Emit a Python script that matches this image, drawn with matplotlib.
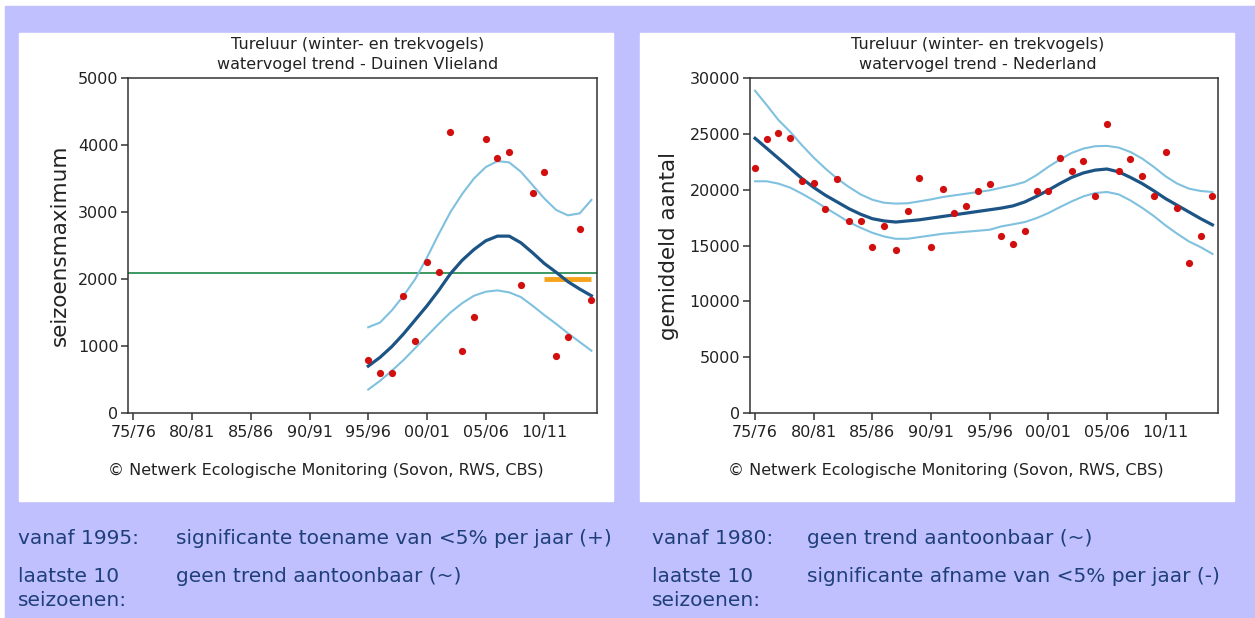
import matplotlib
matplotlib.use("Agg")
import matplotlib.pyplot as plt
from matplotlib.patches import Rectangle
import numpy as np

# ── colours ──────────────────────────────────────────────────────────
LAVENDER = "#C0C0FF"
RED = "#D10F0F"
TREND = "#1B5485"
BAND = "#7FC1DF"
GREEN = "#2E9154"
ORANGE = "#F5A31A"
AXIS = "#333333"
TEXT_BLUE = "#1F3F7A"

W, H = 1255, 618

# ── data: Duinen Vlieland ────────────────────────────────────────────
years_l = np.arange(1995, 2015)
counts_l = [790, 590, 590, 1740, 1080, 2260, 2110, 4190, 930, 1430,
            4090, 3810, 3890, 1910, 3290, 3590, 850, 1130, 2740, 1680]
trend_l = [700, 830, 990, 1180, 1390, 1600, 1830, 2080, 2280, 2440,
           2570, 2640, 2640, 2540, 2390, 2230, 2100, 1960, 1850, 1750]
upper_l = [1280, 1350, 1530, 1750, 2000, 2320, 2670, 3000, 3270, 3500,
           3670, 3760, 3740, 3600, 3400, 3200, 3030, 2950, 2980, 3180]
lower_l = [350, 480, 630, 790, 970, 1150, 1330, 1500, 1640, 1750,
           1810, 1830, 1800, 1730, 1600, 1460, 1330, 1190, 1060, 930]
ref_level_l = 2090
recent_years_l = [2010, 2014]
recent_level_l = 2000

# ── data: Nederland ──────────────────────────────────────────────────
years_r = np.arange(1975, 2015)
counts_r = [21980, 24520, 25030, 24670, 20780, 20600, 18230, 20930, 17160, 17160,
            14910, 16740, 14580, 18080, 21080, 14910, 20030, 17900, 18530, 19880,
            20480, 15840, 15090, 16260, 19880, 19880, 22870, 21680, 22580, 19430,
            25900, 21680, 22730, 21200, 19400, 23330, 18350, 13410, 15840, 19430]
trend_r = [24600, 23700, 22800, 21900, 21000, 20200, 19500, 18900, 18300, 17800,
           17400, 17200, 17100, 17200, 17300, 17450, 17600, 17750, 17900, 18050,
           18200, 18350, 18550, 18900, 19400, 19950, 20550, 21100, 21500, 21750,
           21850, 21600, 21100, 20550, 19900, 19200, 18600, 18000, 17400, 16850]
upper_r = [28860, 27570, 26230, 25180, 23980, 22870, 21890, 20990, 20240, 19580,
           19100, 18830, 18750, 18780, 18950, 19130, 19340, 19490, 19640, 19790,
           19940, 20180, 20400, 20690, 21300, 22040, 22700, 23290, 23680, 23890,
           23920, 23770, 23380, 22790, 22040, 21200, 20540, 20090, 19880, 19790]
lower_r = [20750, 20750, 20540, 20180, 19640, 19040, 18380, 17750, 17100, 16590,
           16140, 15810, 15600, 15600, 15750, 15900, 16050, 16140, 16230, 16320,
           16410, 16710, 16900, 17100, 17450, 17900, 18440, 18950, 19400, 19700,
           19790, 19580, 19040, 18380, 17640, 16800, 16050, 15360, 14850, 14250]

tick_years = [1975, 1980, 1985, 1990, 1995, 2000, 2005, 2010]
tick_labels = ["75/76", "80/81", "85/86", "90/91", "95/96", "00/01", "05/06", "10/11"]

plt.rcParams["font.family"] = ["DejaVu Sans"]

fig = plt.figure(figsize=(W / 100, H / 100), dpi=100)
fig.patch.set_facecolor("white")


def fx(x):
    return x / W


def fy(y):
    return 1 - y / H


def rect(x0, y0, x1, y1, color):
    fig.patches.append(Rectangle((fx(x0), fy(y1)), fx(x1 - x0), (y1 - y0) / H,
                                 transform=fig.transFigure, color=color, zorder=-10))


rect(5, 6, W, H, LAVENDER)
rect(19, 33, 613, 501, "white")
rect(640, 33, 1234, 501, "white")


def make_axes(x0, x1, y0, y1):
    ax = fig.add_axes([fx(x0), fy(y1), fx(x1 - x0), (y1 - y0) / H])
    for sp in ax.spines.values():
        sp.set_color(AXIS)
        sp.set_linewidth(1.1)
    ax.tick_params(direction="out", length=5, width=1.1, colors=AXIS,
                   labelsize=11.5, labelcolor="#222222", pad=2)
    ax.tick_params(axis="x", pad=4)
    ax.set_xlim(1974.57, 2014.5)
    ax.set_xticks(tick_years)
    ax.set_xticklabels(tick_labels)
    return ax


def draw(ax, years, counts, trend, upper, lower):
    ax.plot(years, upper, color=BAND, lw=1.5, zorder=2)
    ax.plot(years, lower, color=BAND, lw=1.5, zorder=2)
    ax.plot(years, trend, color=TREND, lw=2.3, zorder=3)
    ax.plot(years, counts, "o", color=RED, ms=5.2, mec="none", zorder=4)


# left panel
axl = make_axes(128.3, 597.3, 78, 413)
axl.axhline(ref_level_l, color=GREEN, lw=1.3, zorder=1)
axl.plot(recent_years_l, [recent_level_l] * 2, color=ORANGE, lw=3.5,
         solid_capstyle="butt", zorder=1.5)
draw(axl, years_l, counts_l, trend_l, upper_l, lower_l)
axl.set_ylim(0, 5000)
axl.set_yticks([0, 1000, 2000, 3000, 4000, 5000])
axl.set_ylabel("seizoensmaximum", fontsize=15.5, color="#222222", labelpad=6)

# right panel
axr = make_axes(750, 1218.3, 78, 413)
draw(axr, years_r, counts_r, trend_r, upper_r, lower_r)
axr.set_ylim(0, 30000)
axr.set_yticks([0, 5000, 10000, 15000, 20000, 25000, 30000])
axr.set_ylabel("gemiddeld aantal", fontsize=15.5, color="#222222", labelpad=7.5)

# chart titles and credits
for cx, place in [(358, "Duinen Vlieland"), (978, "Nederland")]:
    fig.text(fx(cx), fy(44), "Tureluur (winter- en trekvogels)",
             ha="center", va="center", fontsize=11.5, color="#222222")
    fig.text(fx(cx), fy(65), f"watervogel trend - {place}",
             ha="center", va="center", fontsize=11.5, color="#222222")
    fig.text(fx(cx - 250), fy(470),
             "\u00a9 Netwerk Ecologische Monitoring (Sovon, RWS, CBS)",
             ha="left", va="center", fontsize=11.5, color="#222222")

# trend verdicts below the charts
notes = [
    (18, 176, "vanaf 1995:", "significante toename van <5% per jaar (+)"),
    (652, 807, "vanaf 1980:", "geen trend aantoonbaar (~)"),
]
recent = [
    (18, 176, "geen trend aantoonbaar (~)"),
    (652, 807, "significante afname van <5% per jaar (-)"),
]
for x0, x1, lab, txt in notes:
    fig.text(fx(x0), fy(538), lab, ha="left", va="center", fontsize=14.5,
             color=TEXT_BLUE)
    fig.text(fx(x1), fy(538), txt, ha="left", va="center", fontsize=14.5,
             color=TEXT_BLUE)
for x0, x1, txt in recent:
    fig.text(fx(x0), fy(577), "laatste 10", ha="left", va="center", fontsize=14.5,
             color=TEXT_BLUE)
    fig.text(fx(x0), fy(601), "seizoenen:", ha="left", va="center", fontsize=14.5,
             color=TEXT_BLUE)
    fig.text(fx(x1), fy(577), txt, ha="left", va="center", fontsize=14.5,
             color=TEXT_BLUE)

fig.savefig("out.png", dpi=100)
plt.close(fig)
